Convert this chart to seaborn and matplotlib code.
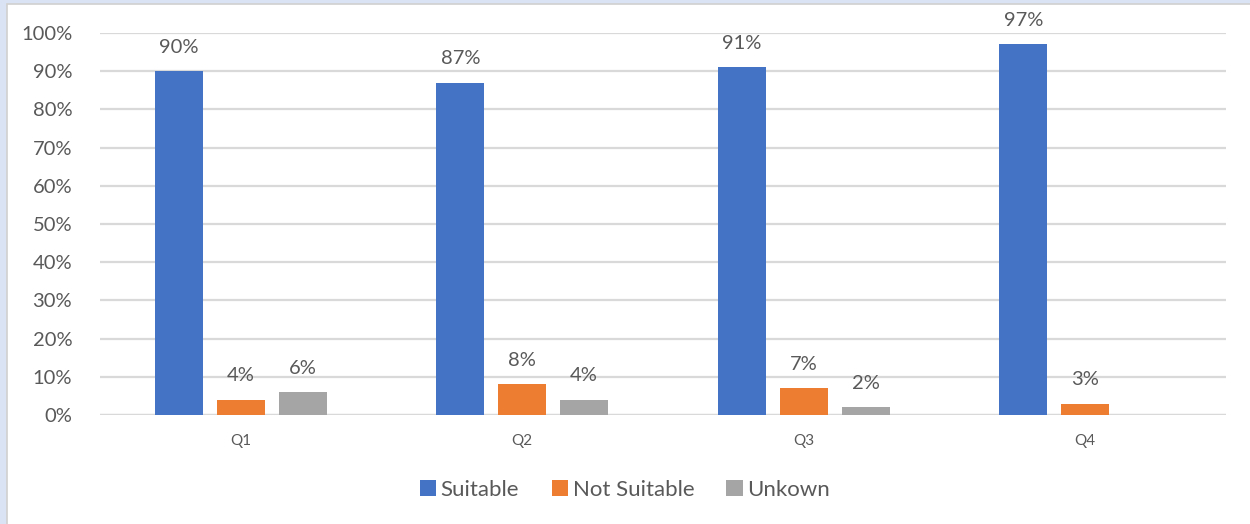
import matplotlib
matplotlib.use("Agg")
import matplotlib.pyplot as plt
from matplotlib.patches import Rectangle
import numpy as np
import pandas as pd
import seaborn as sns

# Share of responses per quarter (percent)
quarters = ["Q1", "Q2", "Q3", "Q4"]
series = ["Suitable", "Not Suitable", "Unkown"]
suitable = [90, 87, 91, 97]
not_suitable = [4, 8, 7, 3]
unknown = [6, 4, 2, np.nan]
colors = ["#4472C4", "#ED7D31", "#A5A5A5"]
y_ticks = list(range(0, 101, 10))

df = pd.DataFrame({
    "quarter": quarters * 3,
    "series": [s for s in series for _ in quarters],
    "value": suitable + not_suitable + unknown,
})

sns.set_theme(style="white")
plt.rcParams["font.family"] = ["Lato", "DejaVu Sans"]
text_color = "#595959"

fig = plt.figure(figsize=(12.5, 5.24), dpi=100)
fig.patch.set_facecolor("#DAE3F3")
fig.patches.append(Rectangle((7 / 1250, -0.01), 1.02, (524 - 4) / 524 + 0.01,
                             transform=fig.transFigure, facecolor="white",
                             edgecolor="#D0D0D0", linewidth=1.2, zorder=-5))

ax = fig.add_axes([100 / 1250, (524 - 415) / 524, 1126 / 1250, 382 / 524])
ax.set_facecolor("none")

sns.barplot(data=df, x="quarter", y="value", hue="series", order=quarters,
            hue_order=series, palette=colors, width=0.66, gap=0.22,
            saturation=1, linewidth=0, ax=ax, legend=True)

for cont in ax.containers:
    labels = ["" if np.isnan(v) else f"{v:.0f}%" for v in cont.datavalues]
    ax.bar_label(cont, labels=labels, padding=11, fontsize=14.5, color=text_color)

ax.set_ylim(0, 100)
ax.set_xlim(-0.5, 3.5)
ax.set_yticks(y_ticks)
ax.set_yticklabels([f"{t}%" for t in y_ticks])
ax.yaxis.grid(True, color="#D9D9D9", linewidth=1.6)
ax.set_axisbelow(True)
for side in ["top", "right", "left", "bottom"]:
    ax.spines[side].set_visible(False)
ax.axhline(0, color="#D9D9D9", linewidth=1.6, zorder=0.5)
ax.tick_params(axis="y", length=0, pad=20, labelsize=14.5, labelcolor=text_color)
ax.tick_params(axis="x", length=0, pad=14, labelsize=11, labelcolor=text_color)
ax.set_xlabel("")
ax.set_ylabel("")

handles, labels = ax.get_legend_handles_labels()
ax.get_legend().remove()
leg = fig.legend(handles, labels, loc="center", bbox_to_anchor=(0.5, (524 - 490) / 524),
                 ncol=3, frameon=False, fontsize=16, handlelength=0.75, handleheight=0.75,
                 handletextpad=0.2, columnspacing=1.45)
for t in leg.get_texts():
    t.set_color(text_color)

fig.savefig("out.png", dpi=100, facecolor=fig.get_facecolor())
